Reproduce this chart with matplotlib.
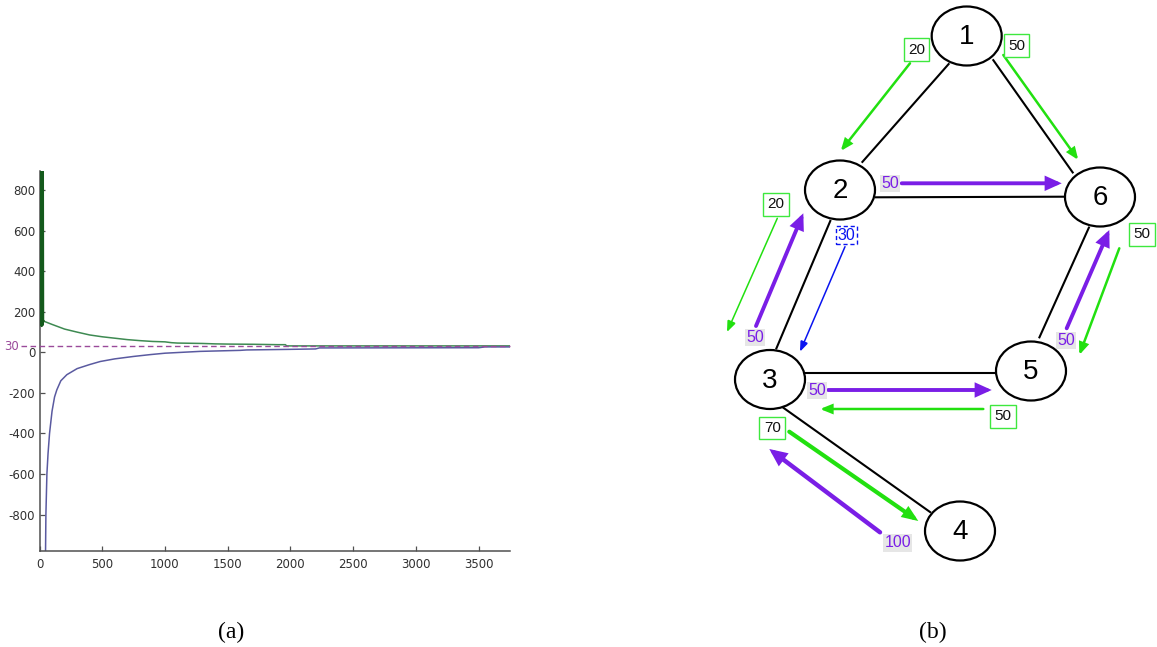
import matplotlib
matplotlib.use("Agg")
import matplotlib.pyplot as plt
from matplotlib.patches import Ellipse, FancyArrowPatch, ArrowStyle

# ---------------- data: panel (a) ----------------
green_x = [15, 17, 19, 21, 23, 25, 27, 29, 30, 100, 200, 300, 400, 500, 600, 700, 800,
           900, 1000, 1050, 1100, 1300, 1400, 1500, 1700, 1900, 1960, 1970, 3750]
green_y = [900, 130, 900, 140, 900, 135, 900, 150, 155, 138, 115, 100, 86, 77, 70, 63, 58,
           54, 52, 48, 46, 44, 42, 41, 40, 38, 38, 32, 32]
blue_x = [48, 51, 55, 59, 68, 80, 100, 120, 138, 170, 218, 300, 400, 484, 600, 750, 882,
          1000, 1281, 1600, 1650, 2000, 2200, 2230, 3500, 3550, 3750]
blue_y = [-990, -800, -700, -600, -500, -400, -290, -220, -185, -140, -110, -80, -60, -45,
          -32, -20, -11, -4, 5, 10, 12, 15, 17, 22, 23, 27, 27]
ref_value = 30
x_ticks = [0, 500, 1000, 1500, 2000, 2500, 3000, 3500]
y_ticks = [-800, -600, -400, -200, 0, 200, 400, 600, 800]

# ---------------- data: panel (b) ----------------
node_names = ['1', '2', '3', '4', '5', '6']
edges = [('1', '2'), ('1', '6'), ('2', '6'), ('2', '3'), ('6', '5'), ('3', '5'), ('3', '4')]
flow_src = ['1', '1', '2', '6', '5', '3', '2', '3', '5', '3', '4', '2']
flow_dst = ['2', '6', '3', '5', '3', '4', '6', '2', '6', '5', '3', '3']
flow_value = [20, 50, 20, 50, 50, 70, 50, 50, 50, 50, 100, 30]
flow_kind = ['g', 'g', 'g', 'g', 'g', 'g', 'p', 'p', 'p', 'p', 'p', 'b']

# ---------------- layout (pixel positions of the diagram) ----------------
node_pos = {'1': (966.7, 36), '2': (840, 190), '3': (770, 379.5),
            '4': (960, 531), '5': (1031, 371), '6': (1100, 197)}
edge_pts = {('1', '2'): ((949.3, 63.3), (861.7, 162.7)),
            ('1', '6'): ((992.7, 59.3), (1073.3, 173.3)),
            ('2', '6'): ((875, 197.3), (1065, 196.7)),
            ('2', '3'): ((830.7, 220), (776, 349.3)),
            ('6', '5'): ((1089.3, 226.7), (1039, 338.3)),
            ('3', '5'): ((805, 373.3), (996, 373.3)),
            ('3', '4'): ((782.7, 407.3), (931, 512.7))}
arrow_pts = [((910, 63.3), (840.7, 151)),
             ((1003.3, 55), (1078.3, 160)),
             ((777.3, 218.3), (727, 332)),
             ((1119.3, 248.3), (1079.3, 355)),
             ((983.3, 409), (820, 409)),
             ((789.3, 431.7), (918.3, 521)),
             ((901.7, 183.3), (1061.7, 183.3)),
             ((756, 326), (803.3, 213.3)),
             ((1066.7, 328.3), (1109.3, 230)),
             ((828.3, 390), (991.7, 390)),
             ((880, 532.3), (769.3, 449)),
             ((845, 246.7), (800, 351.7))]
arrow_lw = [1.8, 1.8, 1.1, 1.8, 1.8, 3.0, 2.8, 2.8, 2.8, 2.8, 3.2, 1.1]
label_pos = [(916.5, 49.7), (1016.5, 45.7), (776.2, 204.5), (1142, 234.5), (1002.8, 416.5),
             (772.2, 428), (890, 183.3), (755, 337.5), (1065.8, 340.5), (816.8, 390.5),
             (897.8, 542.8), (846.3, 235)]

GREEN = '#22e010'
PURPLE = '#7a1ee6'
BLUE = '#0a14f0'

W, H = 1157, 647
fig = plt.figure(figsize=(W / 100, H / 100), dpi=100)
fig.patch.set_facecolor('white')

# ---------------- panel (a) ----------------
ax = fig.add_axes([39.5 / W, 1 - 551 / H, (510 - 39.5) / W, (551 - 171) / H])
ax.plot(green_x, green_y, color='#3e8a52', lw=1.1, zorder=2)
ax.plot(green_x[:9], green_y[:9], color='#145a1c', lw=1.6, zorder=3)
ax.plot(blue_x, blue_y, color='#5a5aa0', lw=1.1, zorder=2)
ax.axhline(ref_value, xmin=-0.04, xmax=1, color='#9a4a9a', lw=1.0, ls=(0, (4, 2.5)),
           clip_on=False, zorder=4)
ax.text(-0.043, ref_value, '30', transform=ax.get_yaxis_transform(), color='#9a4a9a',
        fontsize=8.5, ha='right', va='center', family='DejaVu Sans')
ax.set_xlim(0, 3750)
ax.set_ylim(-980, 895)
ax.set_xticks(x_ticks)
ax.set_yticks(y_ticks)
ax.set_xticklabels([str(v) for v in x_ticks])
ax.set_yticklabels([str(v) for v in y_ticks])
for s in ['top', 'right']:
    ax.spines[s].set_visible(False)
for s in ['left', 'bottom']:
    ax.spines[s].set_color('#505050')
    ax.spines[s].set_linewidth(1.1)
ax.tick_params(axis='both', direction='in', length=3.5, width=0.9, color='#505050',
               labelsize=8.5, labelcolor='#303030')
ax.tick_params(axis='x', pad=5)
ax.tick_params(axis='y', pad=3)
ax.set_facecolor('none')

# ---------------- panel (b) ----------------
ax2 = fig.add_axes([0, 0, 1, 1], zorder=-1)
ax2.set_xlim(0, W)
ax2.set_ylim(H, 0)
ax2.axis('off')

for e in edges:
    (x0, y0), (x1, y1) = edge_pts[e]
    ax2.plot([x0, x1], [y0, y1], color='black', lw=1.5, solid_capstyle='butt', zorder=1)

for n in node_names:
    x, y = node_pos[n]
    ax2.add_patch(Ellipse((x, y), 70, 59, fc='white', ec='black', lw=1.6, zorder=2))
    ax2.text(x, y + 1, n, fontsize=20, ha='center', va='center',
             family='Liberation Sans', zorder=3)

for i in range(len(flow_value)):
    kind = flow_kind[i]
    (xa, ya), (xb, yb) = arrow_pts[i]
    if kind == 'g':
        col = GREEN
        style = ArrowStyle('-|>', head_length=6.5, head_width=2.6)
    elif kind == 'p':
        col = PURPLE
        style = ArrowStyle('-|>', head_length=7.5, head_width=3.4)
    else:
        col = BLUE
        style = ArrowStyle('-|>', head_length=6, head_width=2.3)
    ax2.add_patch(FancyArrowPatch((xa, ya), (xb, yb), arrowstyle=style, color=col,
                                  lw=arrow_lw[i], shrinkA=0, shrinkB=0, zorder=4,
                                  joinstyle='miter'))
    lx, ly = label_pos[i]
    txt = str(flow_value[i])
    if kind == 'g':
        ax2.text(lx, ly, txt, fontsize=11, ha='center', va='center', color='#111111',
                 family='Liberation Sans', zorder=5,
                 bbox=dict(boxstyle='square,pad=0.28', fc='white', ec='#3ee83e', lw=1.0))
    elif kind == 'p':
        ax2.text(lx, ly, txt, fontsize=11.5, ha='center', va='center', color=PURPLE,
                 family='Liberation Sans', zorder=5,
                 bbox=dict(boxstyle='square,pad=0.08', fc='#e6e6e6', ec='none'))
    else:
        ax2.text(lx, ly, txt, fontsize=11.5, ha='center', va='center', color=BLUE,
                 family='Liberation Sans', zorder=5,
                 bbox=dict(boxstyle='square,pad=0.1', fc='white', ec=BLUE, lw=1.0,
                           ls=(0, (3, 2))))

fig.text(231 / W, 1 - 632 / H, '(a)', fontsize=17, ha='center', va='center',
         family='Liberation Serif')
fig.text(933 / W, 1 - 632 / H, '(b)', fontsize=17, ha='center', va='center',
         family='Liberation Serif')

fig.savefig('out.png', dpi=100, facecolor='white')
